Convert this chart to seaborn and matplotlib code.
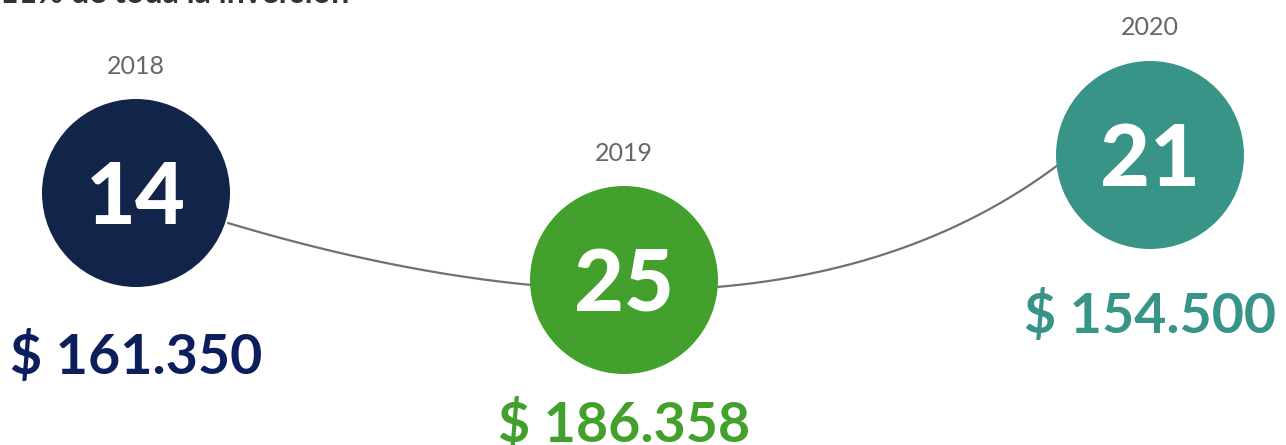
import numpy as np
import pandas as pd
import matplotlib
matplotlib.use("Agg")
import matplotlib.pyplot as plt
import seaborn as sns

# ── Datos ─────────────────────────────────────────────────────────────────────
YEARS   = ["2018", "2019", "2020"]
COUNTS  = [14, 25, 21]
AMOUNTS = ["$ 161.350", "$ 186.358", "$ 154.500"]
TITLE   = "11% de toda la inversión"

COLORS = {"2018": "#12244a", "2019": "#43a02c", "2020": "#399488"}
AMOUNT_COLORS = {"2018": "#0c1f5c", "2019": "#43a02c", "2020": "#399488"}

# ── Layout (píxeles) ──────────────────────────────────────────────────────────
W, H = 1286, 445
CX = [136, 624, 1150]
CY = [193, 280, 155]
RADIUS = 94
YEAR_BASE = [74, 161, 35]
AMOUNT_BASE = [374, 442, 333]

# conector: bezier cúbica (bordes de círculo 2018 → 2020)
BEZ = np.array([[228, 223], [528, 313], [838, 330], [1058, 165]])

sns.set_theme(style="white")
plt.rcParams["font.family"] = ["Lato", "DejaVu Sans"]

df = pd.DataFrame({"year": YEARS, "count": COUNTS, "amount": AMOUNTS,
                   "x": CX, "y": CY})

fig = plt.figure(figsize=(W / 100, H / 100), dpi=100)
ax = fig.add_axes([0, 0, 1, 1])
ax.set_xlim(0, W)
ax.set_ylim(H, 0)
ax.axis("off")

# línea de conexión
t = np.linspace(0, 1, 200)[:, None]
curve = ((1 - t) ** 3 * BEZ[0] + 3 * (1 - t) ** 2 * t * BEZ[1]
         + 3 * (1 - t) * t ** 2 * BEZ[2] + t ** 3 * BEZ[3])
ax.plot(curve[:, 0], curve[:, 1], color="#707070", lw=1.6, zorder=1)

# círculos
diam_pt = 2 * RADIUS * 72 / 100
sns.scatterplot(data=df, x="x", y="y", hue="year", palette=COLORS,
                s=diam_pt ** 2, linewidth=0, legend=False, ax=ax, zorder=2)
ax.set_xlabel("")
ax.set_ylabel("")

for i, row in df.iterrows():
    ax.text(row["x"], row["y"] + 31, str(row["count"]), ha="center", va="baseline",
            fontsize=62, fontweight="black", color="white", zorder=3)
    ax.text(row["x"], YEAR_BASE[i], row["year"], ha="center", va="baseline",
            fontsize=18, color="#666666", zorder=3)
    ax.text(row["x"], AMOUNT_BASE[i], row["amount"], ha="center", va="baseline",
            fontsize=40, fontweight="bold", color=AMOUNT_COLORS[row["year"]], zorder=3)

# título recortado en el borde superior
ax.text(0, 3, TITLE, ha="left", va="baseline", fontsize=23, fontweight="bold",
        color="#333333", zorder=3)

fig.savefig("out.png", dpi=100)
